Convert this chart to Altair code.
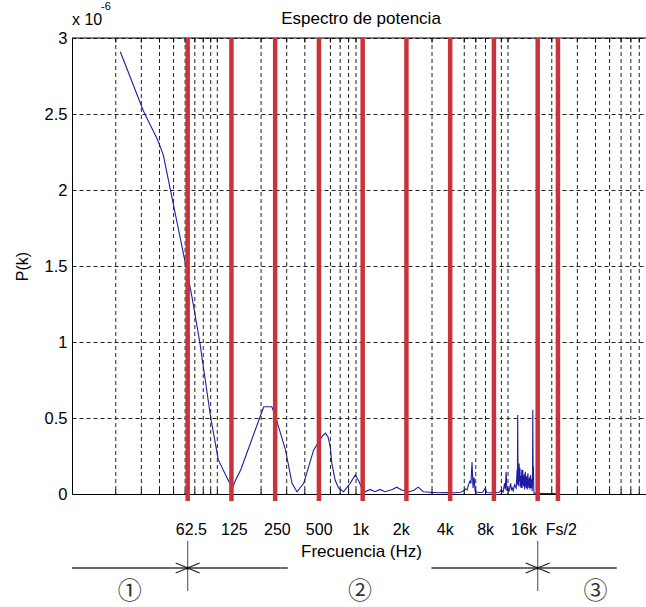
import altair as alt
import pandas as pd

# ---- spectrum (x: Hz, y: power in units of 1e-6) ----
freq_hz = [21.5, 31, 38.8, 42.5, 61.7, 66.8, 75.7, 90.1, 101.6, 121.6, 126.7, 133.6, 144.7,
           193.1, 208.9, 237.1, 251.3, 294.3, 326.6, 353.3,
           392.7, 460, 524.8, 553.4, 576.7, 598.6, 613.8, 647, 682, 738,
           820, 888.6, 935, 986, 1040, 1125, 1216, 1316, 1424, 1600,
           1714, 1854, 2105, 2250, 2413, 2612, 2900, 3300, 3800, 4300,
           4700, 4950, 5100, 5230, 5340, 5470, 5560, 5655, 5746, 5836,
           5950, 6300, 6700, 6980, 7100, 7600, 8200, 8700, 9007, 9250,
           9460, 9580, 9700, 9830, 9960, 10150, 10420, 10550, 10690, 10850,
           11090, 11380,
           11550, 11600, 11660, 11720, 11780, 11850, 11930, 12000, 12080, 12150,
           12230, 12300, 12380, 12440, 12500, 12560, 12630, 12700, 12760, 12830,
           12890, 12950, 13020, 13080, 13150, 13220, 13290, 13360, 13430, 13500,
           13570, 13640, 13710, 13780, 13850, 13920, 14000, 14070, 14150, 14220,
           14300, 14360, 14420, 14470, 14520, 14590, 14660, 14740, 14810, 14890,
           14970, 15040, 15110, 16000, 18000, 20000, 22050]
power = [2.91, 2.52, 2.33, 2.23, 1.47, 1.30, 1.00, 0.50, 0.224, 0.07, 0.037, 0.092, 0.158,
         0.487, 0.574, 0.574, 0.509, 0.29, 0.07, 0.015,
         0.07, 0.29, 0.377, 0.40, 0.377, 0.31, 0.20, 0.09, 0.04, 0.015,
         0.07, 0.125, 0.09, 0.04, 0.015, 0.03, 0.015, 0.03, 0.015, 0.03,
         0.045, 0.026, 0.015, 0.025, 0.045, 0.015, 0.012, 0.008, 0.01, 0.008,
         0.012, 0.02, 0.035, 0.026, 0.06, 0.085, 0.07, 0.21, 0.04, 0.11,
         0.015, 0.01, 0.012, 0.04, 0.01, 0.008, 0.01, 0.012, 0.026, 0.012,
         0.07, 0.03, 0.147, 0.02, 0.04, 0.015, 0.07, 0.03, 0.04, 0.02,
         0.06, 0.04,
         0.158, 0.06, 0.52, 0.07, 0.114, 0.05, 0.2, 0.08, 0.169, 0.05,
         0.12, 0.04, 0.09, 0.16, 0.04, 0.1, 0.158, 0.06, 0.12, 0.05,
         0.07, 0.13, 0.03, 0.1, 0.147, 0.05, 0.11, 0.04, 0.08, 0.12,
         0.03, 0.09, 0.136, 0.05, 0.1, 0.04, 0.06, 0.11, 0.03, 0.08,
         0.125, 0.05, 0.04, 0.1, 0.06, 0.09, 0.02, 0.07, 0.553, 0.1,
         0.18, 0.03, 0.005, 0.004, 0.003, 0.003, 0.003]

# ---- octave band edges (red lines) and their labels ----
band_hz = [62.5, 125, 250, 500, 1000, 2000, 4000, 8000, 16000, 22050]
label_hz = [65.7, 130, 257, 498, 961, 1830, 3670, 6960, 12780, 23070]
label_text = ["62.5", "125", "250", "500", "1k", "2k", "4k", "8k", "16k", "Fs/2"]

# ---- log grid positions ----
grid_hz = ([d * 10 for d in range(2, 10)] + [d * 100 for d in range(1, 10)] +
           [d * 1000 for d in range(1, 10)] + [d * 10000 for d in range(1, 9)])
y_ticks = [0, 0.5, 1, 1.5, 2, 2.5, 3]

# ---- zone annotation below the axis ----
seg_start = [10, 62.5, 2970, 16000]
seg_end = [62.5, 305, 16000, 56000]
junction_hz = [62.5, 16000]
zone_hz = [25, 960, 40000]
zone_text = ["\u2460", "\u2461", "\u2462"]
arrow_level = -0.487
sep_top, sep_bottom = -0.309, -0.638
zone_level = -0.645
red_bottom = -0.046
tick_len = 0.03

FONT = "Liberation Sans"
xs = alt.Scale(type="log", domain=[10, 89000], nice=False)
ys = alt.Scale(domain=[0, 3], nice=False, zero=False)

parts = []
for i in range(len(label_hz) - 1):
    thr = (label_hz[i] * label_hz[i + 1]) ** 0.5
    parts.append(f"datum.value < {thr:.2f} ? '{label_text[i]}' : ")
label_expr = "".join(parts) + f"'{label_text[-1]}'"

spec_df = pd.DataFrame({"f": freq_hz, "p": power})
band_df = pd.DataFrame({"f": band_hz, "lo": [red_bottom] * len(band_hz), "hi": [3] * len(band_hz)})
grid_df = pd.DataFrame({"f": grid_hz,
                        "b0": [0] * len(grid_hz), "b1": [tick_len] * len(grid_hz),
                        "t0": [3 - tick_len] * len(grid_hz), "t1": [3] * len(grid_hz)})
seg_df = pd.DataFrame({"f": seg_start, "f2": seg_end, "lvl": [arrow_level] * len(seg_start)})
junc_df = pd.DataFrame({"f": junction_hz, "lvl": [arrow_level] * len(junction_hz),
                        "top": [sep_top] * len(junction_hz), "bot": [sep_bottom] * len(junction_hz)})
zone_df = pd.DataFrame({"f": zone_hz, "t": zone_text, "lvl": [zone_level] * len(zone_hz)})
top_df = pd.DataFrame({"v": [3]})

x_axis = alt.Axis(values=label_hz, labelExpr=label_expr, ticks=False, tickSize=0, grid=False,
                  domain=True, domainColor="black", domainWidth=1,
                  labelFontSize=16, labelFont=FONT, labelColor="black", labelPadding=35,
                  labelBaseline="middle", labelOverlap=False, labelFlush=False,
                  title="Frecuencia (Hz)", titleFontSize=17, titleFont=FONT,
                  titleFontWeight="normal", titleColor="black", titleX=289, titleY=57,
                  titleBaseline="middle", titleAlign="center")
y_axis = alt.Axis(values=y_ticks, format="~g", grid=True, gridDash=[4, 3], gridColor="#222",
                  gridWidth=1, ticks=False, domain=True, domainColor="black", domainWidth=1,
                  labelFontSize=16.5, labelFont=FONT, labelColor="black", labelPadding=5,
                  title="P(k)", titleFontSize=16, titleFont=FONT, titleFontWeight="normal",
                  titleColor="black", titleX=-50, titleY=228, titleAngle=270,
                  titleAlign="center", titleBaseline="middle")


def X(field="f"):
    return alt.X(f"{field}:Q", scale=xs, axis=x_axis)


def Y(field):
    return alt.Y(f"{field}:Q", scale=ys, axis=y_axis)


vgrid = alt.Chart(grid_df).mark_rule(color="#222", strokeWidth=1, strokeDash=[4, 3]).encode(x=X())

ticks_bottom = alt.Chart(grid_df).mark_rule(color="black", strokeWidth=1).encode(
    x=X(), y=Y("b0"), y2="b1:Q")
ticks_top = alt.Chart(grid_df).mark_rule(color="black", strokeWidth=1).encode(
    x=X(), y=Y("t0"), y2="t1:Q")

top_border = alt.Chart(top_df).mark_rule(color="black", strokeWidth=1).encode(y=Y("v"))

line = alt.Chart(spec_df).mark_line(color="#1c1ca8", strokeWidth=1.1).encode(x=X(), y=Y("p"))

red = alt.Chart(band_df).mark_rule(color="#c8343a", strokeWidth=4.5, clip=False).encode(
    x=X(), y=Y("lo"), y2="hi:Q")

segs = alt.Chart(seg_df).mark_rule(color="#3a3a3a", strokeWidth=1.3, clip=False).encode(
    x=X(), x2="f2:Q", y=Y("lvl"))

seps = alt.Chart(junc_df).mark_rule(color="#8a5a5a", strokeWidth=1.2, clip=False).encode(
    x=X(), y=Y("top"), y2="bot:Q")

chev_r = alt.Chart(junc_df).mark_point(shape="M -1 -0.42 L 0 0 L -1 0.42", filled=False,
                                       size=576, strokeWidth=1.2, color="#222", opacity=1,
                                       clip=False).encode(x=X(), y=Y("lvl"))
chev_l = alt.Chart(junc_df).mark_point(shape="M 1 -0.42 L 0 0 L 1 0.42", filled=False,
                                       size=576, strokeWidth=1.2, color="#222", opacity=1,
                                       clip=False).encode(x=X(), y=Y("lvl"))
dots = alt.Chart(junc_df).mark_point(shape="circle", filled=True, size=10, color="black",
                                     opacity=1, clip=False).encode(x=X(), y=Y("lvl"))

zones = alt.Chart(zone_df).mark_text(font="Noto Sans CJK JP", fontSize=24, color="#333",
                                     align="center", baseline="middle", clip=False).encode(
    x=X(), y=Y("lvl"), text="t:N")

title_txt = alt.Chart(pd.DataFrame({"t": ["Espectro de potencia"]})).mark_text(
    font=FONT, fontSize=17, color="black", align="center", baseline="middle").encode(
    x=alt.value(289), y=alt.value(-19), text="t:N")
exp_base = alt.Chart(pd.DataFrame({"t": ["x 10"]})).mark_text(
    font=FONT, fontSize=16, color="black", align="left", baseline="middle").encode(
    x=alt.value(0), y=alt.value(-18), text="t:N")
exp_sup = alt.Chart(pd.DataFrame({"t": ["-6"]})).mark_text(
    font=FONT, fontSize=11, color="black", align="left", baseline="middle").encode(
    x=alt.value(29), y=alt.value(-31), text="t:N")

chart = alt.layer(
    line, vgrid, ticks_bottom, ticks_top, top_border, red,
    segs, seps, chev_r, chev_l, dots, zones, title_txt, exp_base, exp_sup
).properties(
    width=574, height=456,
    padding={"left": 72, "top": 38, "right": 0, "bottom": 113},
    autosize=alt.AutoSizeParams(type="none"),
    background="white",
).configure_view(stroke=None)

chart.save("out.html", embed_options={"renderer": "svg", "actions": False})
